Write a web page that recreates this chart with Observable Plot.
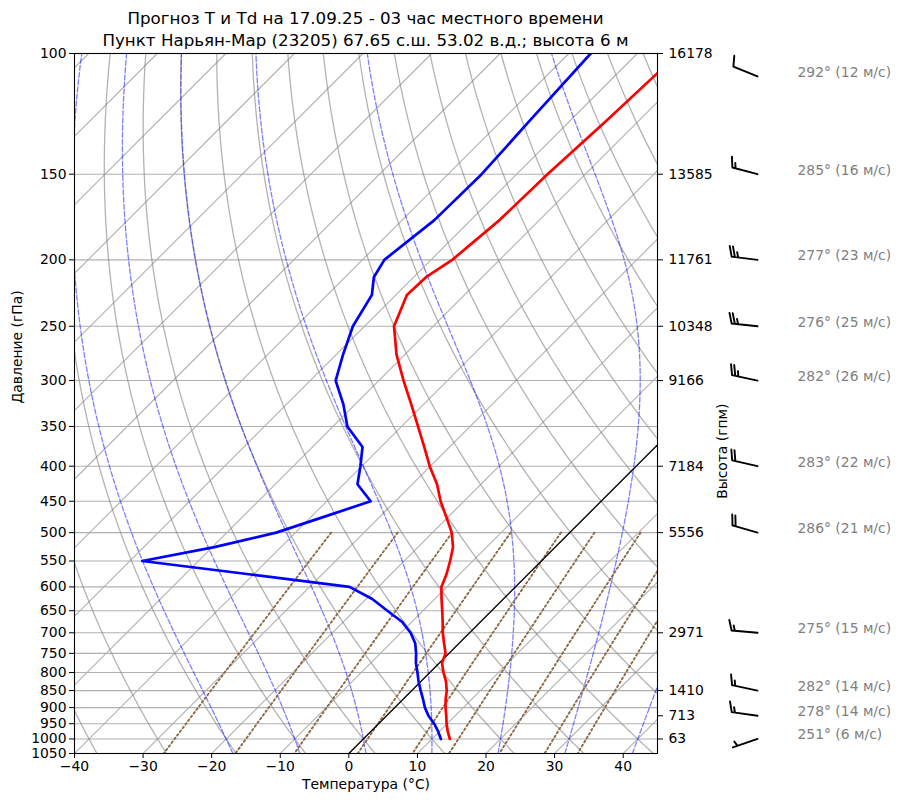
<!DOCTYPE html>
<html><head><meta charset="utf-8">
<script src="https://cdn.jsdelivr.net/npm/d3@7"></script>
<script src="https://cdn.jsdelivr.net/npm/@observablehq/plot@0.6"></script>
<style>
body{margin:0;background:#fff;font-family:"DejaVu Sans",sans-serif;}
#title{width:900px;height:50px;box-sizing:border-box;padding-left:74px;padding-right:243px;padding-top:7px;text-align:center;font-size:16.7px;line-height:22px;color:#000;white-space:nowrap;}
#chart svg{display:block;}
</style></head><body>
<div id="title"><div>Прогноз T и Td на 17.09.25 - 03 час местного времени</div><div>Пункт Нарьян-Мар (23205) 67.65 с.ш. 53.02 в.д.; высота 6 м</div></div>
<div id="chart"></div>
<script>
// ---- Sounding data ----
const pressure = [1000, 975, 950, 925, 900, 875, 850, 825, 800, 775, 750, 725, 700, 675, 650, 625, 600, 575, 550, 525, 500, 475, 450, 425, 400, 375, 350, 325, 300, 275, 250, 225, 212, 200, 175, 150, 125, 100];
const temperature = [12.6, 11.2, 9.9, 8.7, 7.4, 6.2, 5.1, 3.7, 2.0, 0.4, -0.5, -2.2, -3.9, -5.5, -7.2, -9.0, -10.8, -11.9, -13.3, -14.9, -17.2, -20.2, -23.4, -26.4, -30.1, -33.7, -37.6, -41.8, -46.4, -51.2, -55.7, -58.4, -58.2, -56.9, -55.8, -55.5, -54.7, -54.0];
const dewpoint = [11.3, 9.8, 8.1, 6.1, 4.4, 2.9, 1.3, -0.3, -1.8, -3.4, -4.8, -6.4, -8.6, -11.4, -15.2, -19.1, -24.2, -40.7, -58.2, -49.7, -42.8, -38.3, -33.6, -38.0, -40.2, -42.7, -47.9, -51.7, -56.3, -59.0, -61.7, -63.5, -65.8, -66.8, -65.3, -65.1, -65.9, -66.8];

// ---- Wind ----
const windLevels = [100, 150, 200, 250, 300, 400, 500, 700, 850, 925, 1000];
const windDir = [292, 285, 277, 276, 282, 283, 286, 275, 282, 278, 251];
const windSpeed = [12, 16, 23, 25, 26, 22, 21, 15, 14, 14, 6];

// ---- Heights (right axis) ----
const heightLevels = [100, 150, 200, 250, 300, 400, 500, 700, 850, 925, 1000];
const heights = [16178, 13585, 11761, 10348, 9166, 7184, 5556, 2971, 1410, 713, 63];

// ---- Axis ticks ----
const xTicks = [-40, -30, -20, -10, 0, 10, 20, 30, 40];
const yTicks = [100, 150, 200, 250, 300, 350, 400, 450, 500, 550, 600, 650, 700, 750, 800, 850, 900, 950, 1000, 1050];

// ---- Background line families ----
const isotherms = [-140, -130, -120, -110, -100, -90, -80, -70, -60, -50, -40, -30, -20, -10, 0, 10, 20, 30, 40];
const dryT0 = [-40, -30, -20, -10, 0, 10, 20, 30, 40, 50, 60, 70, 80, 90, 100, 110, 120, 130, 140, 150];
const moistT0 = [-20, -10, 0, 10, 20, 30, 40];
const mixingRatios = [0.0004, 0.001, 0.002, 0.004, 0.007, 0.01, 0.016, 0.024, 0.032];

// ---- Layout ----
const W = 900, H = 756, mL = 74, mR = 243, mT = 3, mB = 53;
const xDomain = [-40, 45], pBottom = 1050, pTop = 100;
const plotW = W - mL - mR, plotH = H - mT - mB;
const K = (plotH / Math.log10(pBottom / pTop)) / (plotW / (xDomain[1] - xDomain[0])); // 45° skew
const skewX = (T, p) => T + K * Math.log10(pBottom / p);

// ---- Thermodynamics for reference lines ----
const Rd = 287.04749, Cpd = 1004.6662, Lv = 2.50084e6, eps = 0.6219569, kappa = Rd / Cpd;
const satVap = Tk => 6.112 * Math.exp(17.67 * (Tk - 273.15) / (Tk - 29.65));
const satMR = (p, Tk) => { const e = satVap(Tk); return eps * e / (p - e); };
const dTdp = (p, Tk) => { const r = satMR(p, Tk); return (Rd * Tk + Lv * r) / (Cpd + Lv * Lv * r * eps / (Rd * Tk * Tk)) / p; };
function moistLine(t0) {
  const out = [];
  const run = (pEnd, h) => {
    let p = 1000, T = t0 + 273.15; const pts = [[p, T]];
    while ((h < 0 && p > pEnd) || (h > 0 && p < pEnd)) {
      const k1 = dTdp(p, T), k2 = dTdp(p + h / 2, T + h / 2 * k1), k3 = dTdp(p + h / 2, T + h / 2 * k2), k4 = dTdp(p + h, T + h * k3);
      T += h / 6 * (k1 + 2 * k2 + 2 * k3 + k4); p += h; pts.push([p, T]);
    }
    return pts;
  };
  const up = run(pTop, -5), down = run(pBottom, 5);
  for (const [p, T] of down.reverse().concat(up.slice(1))) out.push({t0, p, x: skewX(T - 273.15, p)});
  return out;
}
const pGrid = d3.range(pTop, pBottom + 0.1, 5);
const dryData = dryT0.flatMap(t0 => pGrid.map(p => ({t0, p, x: skewX((t0 + 273.15) * Math.pow(p / 1000, kappa) - 273.15, p)})));
const moistData = moistT0.flatMap(moistLine);
const mixData = mixingRatios.flatMap(w => d3.range(500, pBottom + 0.1, 25).map(p => {
  const e = p * w / (eps + w), a = Math.log(e / 6.112);
  return {w, p, x: skewX(243.5 * a / (17.67 - a), p)};
}));

const profile = pressure.map((p, i) => ({p, T: temperature[i], Td: dewpoint[i]}));
const barbTopP = 108;
const winds = windLevels.map((p, i) => ({p: Math.max(p, barbTopP), dir: windDir[i], spd: windSpeed[i], label: `${windDir[i]}° (${windSpeed[i]} м/с)`}));

// Wind barb shape (matplotlib-like), length channel carries speed
const barbShape = {
  draw(ctx, l) {
    const S = 26, Hb = 0.4 * S, Wb = 0.25 * S, sp = 0.125 * S;
    ctx.moveTo(0, 0); ctx.lineTo(0, -S);
    let mag = 5 * Math.round(l / 5);
    const nflag = Math.floor(mag / 50); mag -= nflag * 50;
    const nfull = Math.floor(mag / 10); mag -= nfull * 10;
    const half = mag >= 5;
    let off = 0;
    for (let i = 0; i < nflag; i++) {
      ctx.moveTo(0, -(S - off)); ctx.lineTo(Hb, -(S - off) + Wb / 2); ctx.lineTo(0, -(S - off) + Wb);
      off += Wb + sp;
    }
    for (let i = 0; i < nfull; i++) {
      ctx.moveTo(0, -(S - off)); ctx.lineTo(Hb, -(S - off) - Wb / 2);
      off += sp;
    }
    if (half) {
      if (off === 0) off += 1.5 * sp;
      ctx.moveTo(0, -(S - off)); ctx.lineTo(Hb / 2, -(S - off) - Wb / 4);
    }
  }
};

const gridColor = "#b0b0b0";
const chart = Plot.plot({
  width: W, height: H, marginLeft: mL, marginRight: mR, marginTop: mT, marginBottom: mB,
  style: {fontSize: "13.9px", fontFamily: "DejaVu Sans, sans-serif", color: "black", background: "white", overflow: "visible"},
  x: {domain: xDomain},
  y: {type: "log", domain: [pBottom, pTop]},
  length: {type: "identity"},
  marks: [
    Plot.gridY({ticks: yTicks, stroke: gridColor, strokeOpacity: 1, strokeWidth: 1.1}),
    Plot.link(isotherms, {x1: t => t, y1: () => pBottom, x2: t => skewX(t, pTop), y2: () => pTop, stroke: gridColor, strokeWidth: 1.1, clip: true}),
    Plot.line(dryData, {x: "x", y: "p", z: "t0", stroke: "#808080", strokeOpacity: 0.6, strokeWidth: 1.3, clip: true}),
    Plot.line(moistData, {x: "x", y: "p", z: "t0", stroke: "#0000ff", strokeOpacity: 0.5, strokeWidth: 1.3, strokeDasharray: "5,2.2", clip: true}),
    Plot.line(mixData, {x: "x", y: "p", z: "w", stroke: "#8c6a48", strokeWidth: 1.9, strokeDasharray: "1.8,2.8", clip: true}),
    Plot.link([0], {x1: t => t, y1: () => pBottom, x2: t => skewX(t, pTop), y2: () => pTop, stroke: "black", strokeWidth: 1.3, clip: true}),
    Plot.line(profile, {x: d => skewX(d.T, d.p), y: "p", stroke: "#ff0000", strokeWidth: 2.7, clip: true}),
    Plot.line(profile, {x: d => skewX(d.Td, d.p), y: "p", stroke: "#0000ff", strokeWidth: 2.7, clip: true}),
    Plot.frame({stroke: "black", strokeWidth: 1.1}),
    Plot.axisX({ticks: xTicks, tickSize: 5, tickPadding: 3, label: null}),
    Plot.axisY({anchor: "left", ticks: yTicks, tickFormat: d => String(d), tickSize: 5, tickPadding: 3, label: null}),
    Plot.axisY({anchor: "right", ticks: heightLevels, tickFormat: d => String(heights[heightLevels.indexOf(d)]), tickSize: 5, tickPadding: 6, label: null}),
    Plot.text(["Температура (°C)"], {frameAnchor: "bottom", dy: 35, text: d => d}),
    Plot.text(["Давление (гПа)"], {frameAnchor: "left", dx: -57, rotate: -90, text: d => d}),
    Plot.text(["Высота (гпм)"], {frameAnchor: "right", dx: 65, rotate: -90, text: d => d}),
    Plot.vector(winds, {y: "p", frameAnchor: "right", dx: 100, rotate: "dir", length: "spd", anchor: "start", shape: barbShape, stroke: "black", strokeWidth: 1.9}),
    Plot.text(winds, {y: "p", frameAnchor: "right", dx: 140, dy: -4, text: "label", textAnchor: "start", fill: "#808080"})
  ]
});
document.getElementById("chart").appendChild(chart);
</script></body></html>
